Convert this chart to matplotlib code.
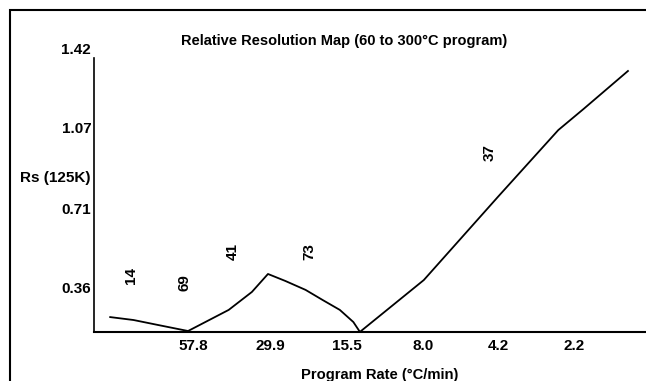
import numpy as np
import matplotlib
matplotlib.use("Agg")
import matplotlib.pyplot as plt
from matplotlib.patches import Rectangle

plt.rcParams['font.family'] = ['Liberation Sans', 'DejaVu Sans']

# ---- data ----
rate = [117.9, 96.5, 78.3, 60.4, 42.6, 34.9, 30.4, 26.2, 22.0, 19.0, 16.4, 14.6, 13.8,
        10.6, 7.97, 4.22, 2.51, 2.02, 1.38]
rs = [0.226, 0.213, 0.191, 0.164, 0.258, 0.338, 0.418, 0.387, 0.347, 0.302, 0.258, 0.204, 0.160,
      0.271, 0.391, 0.761, 1.059, 1.153, 1.322]

xtick_vals = [57.8, 29.9, 15.5, 8.0, 4.2, 2.2]
xtick_labels = ["57.8", "29.9", "15.5", "8.0", "4.2", "2.2"]
ytick_vals = [0.36, 0.71, 1.07, 1.42]
ytick_labels = ["0.36", "0.71", "1.07", "1.42"]

peak_labels = ["14", "69", "41", "73", "37"]
peak_x = [98.2, 62.5, 41.2, 21.3, 4.53]
peak_y = [0.409, 0.378, 0.516, 0.520, 0.957]

title = "Relative Resolution Map (60 to 300°C program)"
xlabel = "Program Rate (°C/min)"
ylabel = "Rs (125K)"

W, H = 646, 381
fig = plt.figure(figsize=(W / 100, H / 100), dpi=100)

# figure border (right/bottom edges run off the picture)
fig.patches.append(Rectangle((10 / W, -0.05), 1.1, 1 - 10 / H + 0.05,
                             transform=fig.transFigure, fill=False,
                             lw=1.5, ec='black'))

ax_left, ax_bottom, ax_top = 94, 332, 40
ax = fig.add_axes([ax_left / W, 1 - ax_bottom / H, 1 - ax_left / W + 0.01,
                   (ax_bottom - ax_top) / H])

ax.plot(rate, rs, color='black', lw=1.3)

ax.set_xscale('log')
ax.set_xlim(135.5, 1.118)
ax.set_ylim(0.1596, 1.460)

ax.set_xticks(xtick_vals)
ax.set_xticklabels(xtick_labels, fontsize=11, fontweight='bold')
ax.xaxis.set_minor_locator(matplotlib.ticker.NullLocator())
ax.set_yticks(ytick_vals)
ax.set_yticklabels(ytick_labels, fontsize=11, fontweight='bold')
ax.tick_params(axis='both', length=0)
ax.tick_params(axis='x', pad=5)
ax.tick_params(axis='y', pad=2)

for s in ['top', 'right']:
    ax.spines[s].set_visible(False)
ax.spines['left'].set_bounds(0.1596, 1.380)
ax.spines['left'].set_linewidth(1.2)
ax.spines['bottom'].set_linewidth(1.5)
ax.patch.set_alpha(0)

for lab, x, y in zip(peak_labels, peak_x, peak_y):
    ax.text(x, y, lab, rotation=90, ha='center', va='center',
            fontsize=11, fontweight='bold')

fig.text(344 / W, 1 - 41 / H, title, ha='center', va='center',
         fontsize=10.5, fontweight='bold')
fig.text(380 / W, 1 - 375 / H, xlabel, ha='center', va='center',
         fontsize=10.6, fontweight='bold')
fig.text(91 / W, 1 - 178 / H, ylabel, ha='right', va='center',
         fontsize=11, fontweight='bold')

fig.savefig("out.png", dpi=100)
